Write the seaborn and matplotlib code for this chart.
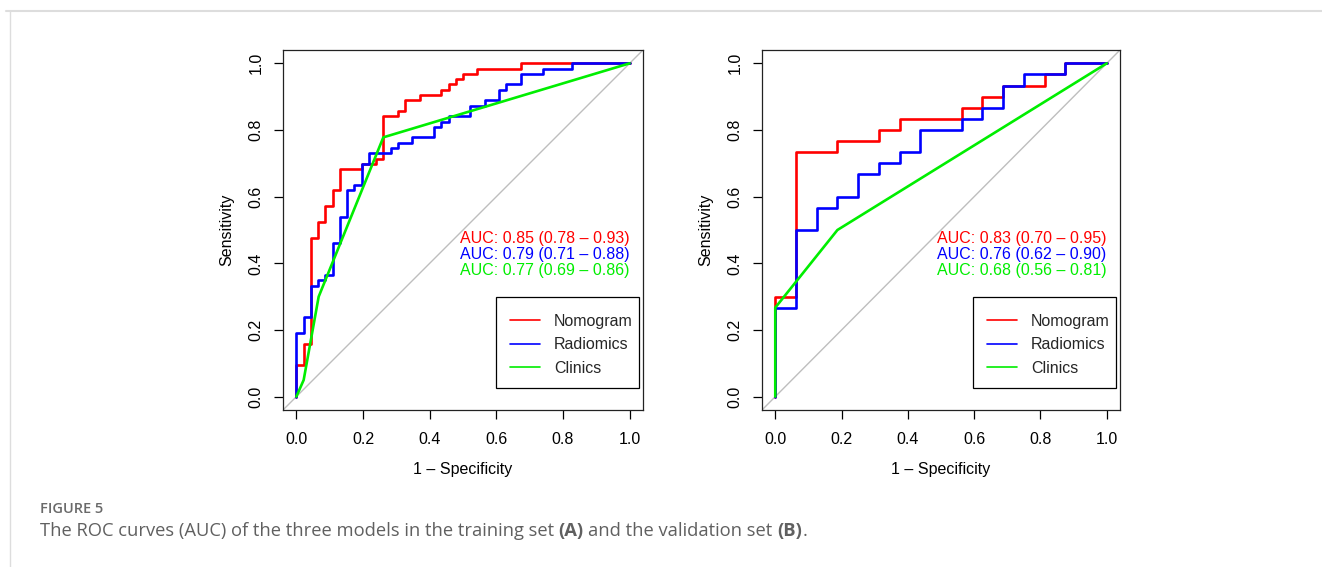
import numpy as np
import pandas as pd
import matplotlib
matplotlib.use("Agg")
import matplotlib.pyplot as plt
import seaborn as sns
from matplotlib.lines import Line2D
from matplotlib.patches import Rectangle

# ---------------- data (ROC breakpoints: fpr = 1 - specificity, tpr = sensitivity) -------------
# Training set (A)
train_nomogram_fpr = [0, 0, 0.022, 0.043, 0.065, 0.087, 0.109, 0.130, 0.196, 0.239, 0.261, 0.304,
                      0.326, 0.370, 0.435, 0.457, 0.478, 0.500, 0.543, 0.674, 1.0]
train_nomogram_tpr = [0, 0.095, 0.159, 0.476, 0.524, 0.571, 0.619, 0.683, 0.698, 0.714, 0.841, 0.857,
                      0.889, 0.905, 0.921, 0.937, 0.952, 0.968, 0.984, 1.0, 1.0]
train_radiomics_fpr = [0, 0, 0.022, 0.043, 0.065, 0.087, 0.109, 0.130, 0.152, 0.174, 0.196, 0.217,
                       0.283, 0.304, 0.348, 0.413, 0.435, 0.457, 0.522, 0.565, 0.609, 0.630, 0.674,
                       0.739, 0.826, 1.0]
train_radiomics_tpr = [0, 0.190, 0.238, 0.333, 0.349, 0.365, 0.460, 0.540, 0.619, 0.635, 0.698, 0.730,
                       0.746, 0.762, 0.778, 0.810, 0.825, 0.841, 0.873, 0.889, 0.921, 0.937, 0.968,
                       0.984, 1.0, 1.0]
train_clinics_fpr = [0, 0.022, 0.067, 0.261, 1.0]
train_clinics_tpr = [0, 0.050, 0.300, 0.778, 1.0]
train_auc_text = ["AUC: 0.85 (0.78 \u2013 0.93)",
                  "AUC: 0.79 (0.71 \u2013 0.88)",
                  "AUC: 0.77 (0.69 \u2013 0.86)"]

# Validation set (B)
valid_nomogram_fpr = [0, 0, 0.0625, 0.1875, 0.3125, 0.375, 0.5625, 0.625, 0.6875, 0.8125, 0.875, 1.0]
valid_nomogram_tpr = [0, 0.300, 0.733, 0.767, 0.800, 0.833, 0.867, 0.900, 0.933, 0.967, 1.0, 1.0]
valid_radiomics_fpr = [0, 0, 0.0625, 0.125, 0.1875, 0.25, 0.3125, 0.375, 0.4375, 0.5625, 0.625,
                       0.6875, 0.75, 0.875, 1.0]
valid_radiomics_tpr = [0, 0.267, 0.500, 0.567, 0.600, 0.667, 0.700, 0.733, 0.800, 0.833, 0.867,
                       0.933, 0.967, 1.0, 1.0]
valid_clinics_fpr = [0, 0, 0.1875, 1.0]
valid_clinics_tpr = [0, 0.267, 0.500, 1.0]
valid_auc_text = ["AUC: 0.83 (0.70 \u2013 0.95)",
                  "AUC: 0.76 (0.62 \u2013 0.90)",
                  "AUC: 0.68 (0.56 \u2013 0.81)"]

model_names = ["Nomogram", "Radiomics", "Clinics"]
model_colors = ["#FF0000", "#0000FF", "#00EE00"]
tick_values = [0.0, 0.2, 0.4, 0.6, 0.8, 1.0]
tick_labels = ["0.0", "0.2", "0.4", "0.6", "0.8", "1.0"]
auc_text_y = [0.475, 0.427, 0.378]

# ---------------- style ----------------
sns.set_theme(style="white")
plt.rcParams['font.family'] = ['Liberation Sans', 'DejaVu Sans']

W, H = 1322, 567
fig = plt.figure(figsize=(W / 100, H / 100), dpi=100)


def px_axes(x0, y0, x1, y1):
    return fig.add_axes([x0 / W, 1 - y1 / H, (x1 - x0) / W, (y1 - y0) / H])


AX_TOP, AX_BOT = 50, 410
axA = px_axes(283, AX_TOP, 643, AX_BOT)
axB = px_axes(762, AX_TOP, 1120, AX_BOT)

FS = 11.5


def draw_panel(ax, x0, x1, curves, auc_texts):
    wpx = x1 - x0
    hpx = AX_BOT - AX_TOP

    def fx(px):
        return (px - x0) / wpx

    def fy(py):
        return (AX_BOT - py) / hpx

    ax.set_xlim(-0.04, 1.04)
    ax.set_ylim(-0.04, 1.04)
    ax.axline((0, 0), (1, 1), color="#bebebe", lw=1.0, zorder=1)
    for (fpr, tpr, step), color in zip(curves, model_colors):
        df = pd.DataFrame({"fpr": fpr, "tpr": tpr})
        kw = dict(drawstyle="steps-post") if step else {}
        sns.lineplot(data=df, x="fpr", y="tpr", estimator=None, sort=False,
                     color=color, lw=1.9, ax=ax, zorder=3, **kw)
    for txt, y, color in zip(auc_texts, auc_text_y, model_colors):
        ax.text(1.0, y, txt, ha="right", va="center", color=color, fontsize=FS)
    ax.set_xticks(tick_values)
    ax.set_xticklabels(tick_labels)
    ax.set_yticks(tick_values)
    ax.set_yticklabels(tick_labels, rotation=90, va="center")
    ax.tick_params(direction="out", length=6.5, width=0.9, pad=9, labelsize=FS,
                   colors="black", bottom=True, left=True)
    ax.tick_params(axis="y", pad=7.5)
    for s in ax.spines.values():
        s.set_color("#222222")
        s.set_linewidth(0.9)
    ax.set_xlabel("1 \u2013 Specificity", fontsize=FS, labelpad=11, color="black")
    ax.set_ylabel("Sensitivity", fontsize=FS, labelpad=10, color="black")

    # legend: frame drawn as a box, entries placed inside
    lx0, lx1 = x1 - 4 - 143, x1 - 4
    ly0, ly1 = 297, 388
    ax.add_patch(Rectangle((fx(lx0), fy(ly1)), fx(lx1) - fx(lx0), fy(ly0) - fy(ly1),
                           transform=ax.transAxes, facecolor="white", edgecolor="black",
                           lw=0.9, zorder=4.5, clip_on=False))
    handles = [Line2D([], [], color=c, lw=1.2) for c in model_colors]
    ax.legend(handles, model_names, loc="upper left",
              bbox_to_anchor=(fx(lx0 + 14), fy(ly0 + 17)),
              borderaxespad=0, frameon=False, fontsize=FS, borderpad=0,
              labelspacing=0.52, handlelength=1.9, handletextpad=0.85)


draw_panel(axA, 283, 643,
           [(train_nomogram_fpr, train_nomogram_tpr, True),
            (train_radiomics_fpr, train_radiomics_tpr, True),
            (train_clinics_fpr, train_clinics_tpr, False)],
           train_auc_text)
draw_panel(axB, 762, 1120,
           [(valid_nomogram_fpr, valid_nomogram_tpr, True),
            (valid_radiomics_fpr, valid_radiomics_tpr, True),
            (valid_clinics_fpr, valid_clinics_tpr, False)],
           valid_auc_text)

# ---------------- card border ----------------
fig.add_artist(Line2D([6 / W, 1.0], [1 - 10.5 / H, 1 - 10.5 / H], color="#dddddd", lw=1.5,
                      transform=fig.transFigure))
fig.add_artist(Line2D([9.5 / W, 9.5 / W], [0, 1 - 10.5 / H], color="#dddddd", lw=1.0,
                      transform=fig.transFigure))

# ---------------- caption ----------------
cap_font = ["Open Sans", "DejaVu Sans"]
fig.text(40 / W, 1 - 509 / H, "FIGURE 5", family=cap_font, weight="semibold", color="#6a6a6a",
         fontsize=10.5, va="center", ha="left")
CFS = 13.2
CCOL = "#606060"
t1 = fig.text(40 / W, 1 - 536 / H, "The ROC curves (AUC) of the three models in the training set",
              family=cap_font, color=CCOL, fontsize=CFS, va="baseline", ha="left")
sp = 3.3
t2 = axA.annotate("(A)", xy=(1, 0), xycoords=t1, xytext=(sp, 0), textcoords="offset points",
                  family=cap_font, weight="bold", color=CCOL, fontsize=CFS, va="bottom", ha="left",
                  annotation_clip=False)
t3 = axA.annotate("and the validation set", xy=(1, 0), xycoords=t2, xytext=(sp, 0),
                  textcoords="offset points", family=cap_font, color=CCOL, fontsize=CFS,
                  va="bottom", ha="left", annotation_clip=False)
t4 = axA.annotate("(B)", xy=(1, 0), xycoords=t3, xytext=(sp, 0), textcoords="offset points",
                  family=cap_font, weight="bold", color=CCOL, fontsize=CFS, va="bottom", ha="left",
                  annotation_clip=False)
t5 = axA.annotate(".", xy=(1, 0), xycoords=t4, xytext=(0.3, 0), textcoords="offset points",
                  family=cap_font, color=CCOL, fontsize=CFS, va="bottom", ha="left",
                  annotation_clip=False)

fig.savefig("out.png", dpi=100)
